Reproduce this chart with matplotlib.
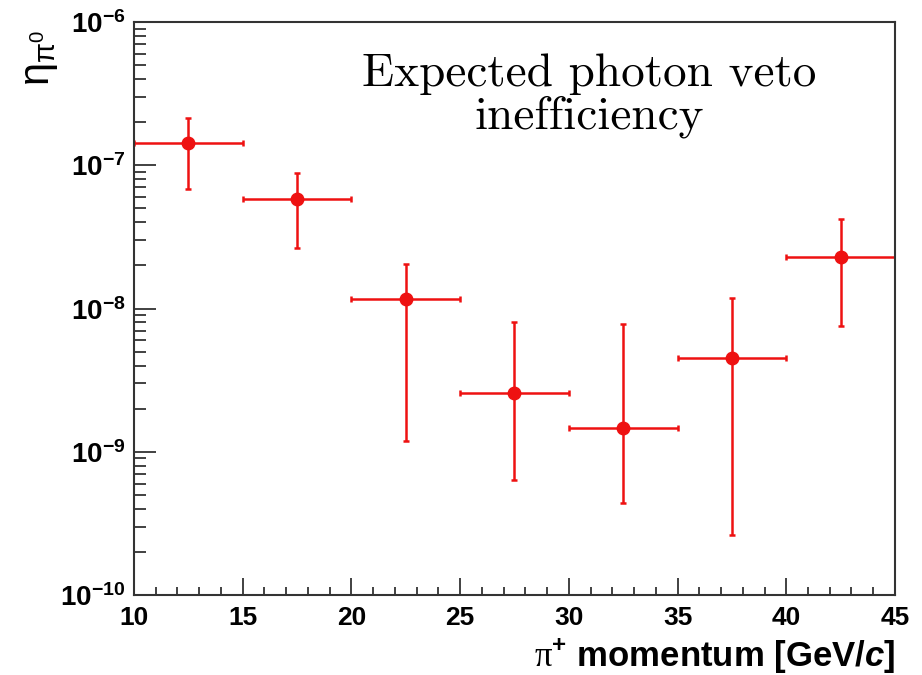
import numpy as np
import matplotlib
matplotlib.use('Agg')
import matplotlib.pyplot as plt
from matplotlib.ticker import FixedLocator, MultipleLocator, LogLocator, NullFormatter

plt.rcParams['mathtext.fontset'] = 'custom'
plt.rcParams['mathtext.rm'] = 'Liberation Sans'
plt.rcParams['mathtext.bf'] = 'Liberation Sans:bold'
plt.rcParams['mathtext.it'] = 'Liberation Sans:italic'
plt.rcParams['mathtext.bfit'] = 'Liberation Sans:italic:bold'
plt.rcParams['mathtext.sf'] = 'Liberation Serif'

# momentum bins (centres and half widths) and veto inefficiency with asymmetric errors
momentum = [12.5, 17.5, 22.5, 27.5, 32.5, 37.5, 42.5]
half_width = [2.5, 2.5, 2.5, 2.5, 2.5, 2.5, 2.5]
eta = [1.42e-7, 5.78e-8, 1.16e-8, 2.57e-9, 1.47e-9, 4.49e-9, 2.30e-8]
eta_hi = [2.15e-7, 8.8e-8, 2.04e-8, 8.05e-9, 7.76e-9, 1.19e-8, 4.21e-8]
eta_lo = [6.8e-8, 2.63e-8, 1.18e-9, 6.35e-10, 4.37e-10, 2.62e-10, 7.55e-9]

x_ticks = [10, 15, 20, 25, 30, 35, 40, 45]
y_ticks = [1e-10, 1e-9, 1e-8, 1e-7, 1e-6]
y_labels = [r'$\mathbf{10^{-10}}$', r'$\mathbf{10^{-9}}$', r'$\mathbf{10^{-8}}$',
            r'$\mathbf{10^{-7}}$', r'$\mathbf{10^{-6}}$']

eta = np.array(eta)
yerr = np.array([eta - np.array(eta_lo), np.array(eta_hi) - eta])

fig = plt.figure(figsize=(9.22, 6.75), dpi=100)
ax = fig.add_axes([0.1453, 0.1185, 0.8254, 0.8489])

red = '#ee1111'
ax.errorbar(momentum, eta, xerr=half_width, yerr=yerr, fmt='o', color=red,
            ecolor=red, elinewidth=1.8, capsize=2, capthick=1.8, markersize=9)

ax.set_yscale('log')
ax.set_xlim(10, 45)
ax.set_ylim(1e-10, 1e-6)

ax.xaxis.set_major_locator(FixedLocator(x_ticks))
ax.xaxis.set_minor_locator(MultipleLocator(1))
ax.set_xticks(x_ticks)
ax.set_xticklabels([str(t) for t in x_ticks], fontfamily='Liberation Sans',
                   fontweight='bold', fontsize=19)
ax.set_yticks(y_ticks)
ax.set_yticklabels(y_labels, fontsize=20)
ax.yaxis.set_minor_locator(LogLocator(base=10, subs=np.arange(2, 10)))
ax.yaxis.set_minor_formatter(NullFormatter())

ax.tick_params(axis='both', which='both', direction='in', top=False, right=False,
               color='#333333', width=1.3)
ax.tick_params(axis='y', which='major', length=16, pad=6)
ax.tick_params(axis='y', which='minor', length=8.5)
ax.tick_params(axis='x', which='major', length=12, pad=8)
ax.tick_params(axis='x', which='minor', length=6)
for s in ax.spines.values():
    s.set_color('#333333')
    s.set_linewidth(1.5)

ax.set_xlabel(r'$\mathsf{π}^{\mathbf{+}}$ momentum [GeV/$\mathbfit{c}$]',
              fontfamily='Liberation Sans', fontweight='bold', fontsize=25)
ax.xaxis.set_label_coords(1.0, -0.071)
ax.xaxis.label.set_horizontalalignment('right')

fig.text(0.042, 0.915, r'$\mathrm{η}_{\mathrm{π}^{0}}$', rotation=90, fontsize=30,
         ha='center', va='center')

ax.text(0.598, 0.872, 'Expected photon veto\ninefficiency', transform=ax.transAxes,
        fontfamily='cmr10', fontsize=34, ha='center', va='center', linespacing=1.02)

fig.savefig('out.png', dpi=100)
